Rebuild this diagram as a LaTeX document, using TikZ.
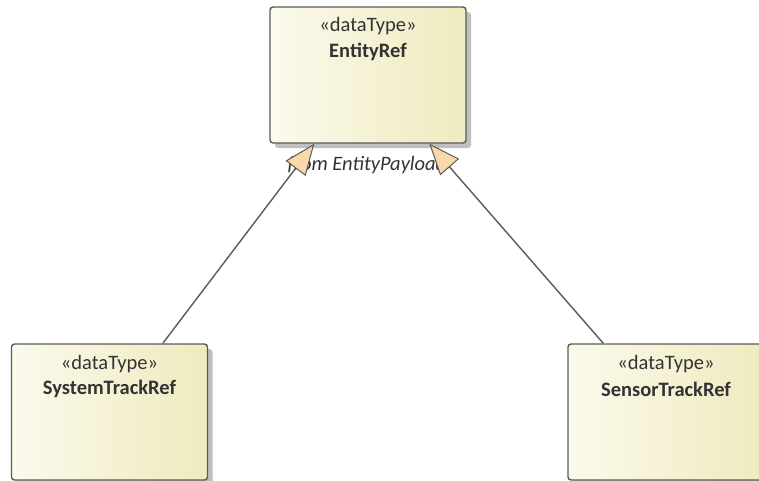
\documentclass[tikz,border=0pt]{standalone}
\usepackage{fontspec}
\setmainfont{Carlito}
\usetikzlibrary{arrows.meta,shadows,calc}
\definecolor{edge}{HTML}{5A5A5A}
\definecolor{lcol}{HTML}{FBFAEC}
\definecolor{rcol}{HTML}{EFEABF}
\definecolor{tipfill}{HTML}{F9D9AC}
\definecolor{txt}{HTML}{333333}
\tikzset{
  classbox/.style={draw=edge, line width=1.4pt, rounded corners=3pt,
    left color=lcol, right color=rcol, shading angle=90,
    minimum width=196pt, minimum height=136pt, inner sep=0pt,
    drop shadow={shadow xshift=5pt, shadow yshift=-5pt, fill=black!25, opacity=1}},
  stereo/.style={font=\fontsize{20.5}{24}\selectfont, text=txt},
  cname/.style={font=\fontsize{20.5}{24}\selectfont\bfseries, text=txt},
  gen/.style={draw=edge, line width=1.4pt,
    -{Triangle[open, length=31pt, width=25pt, fill=tipfill, line width=1pt]}},
}
\begin{document}
\begin{tikzpicture}[x=1pt,y=-1pt]
\useasboundingbox (0,0) rectangle (759,480);
\clip (0,0) rectangle (759,480);
\node[classbox] (er) at (368,75) {};
\node[stereo] (erst) at (368,26) {«dataType»};
\node[cname] (ernm) at (368,52) {EntityRef};
\node[classbox] (st) at (109.5,412) {};
\node[stereo] (stst) at (109.5,364) {«dataType»};
\node[cname] (stnm) at (109.5,389) {SystemTrackRef};
\node[classbox] (se) at (666,412) {};
\node[stereo] (sest) at (666,364) {«dataType»};
\node[cname] (senm) at (666,389) {SensorTrackRef};
\node[font=\fontsize{20.5}{24}\selectfont\itshape, text=txt] (lbl) at (367,165) {from EntityPayload};
\draw[gen] ($(st.north west)+(152,0)$) -- ($(er.south west)+(45,0)$);
\draw[gen] ($(se.north west)+(36,0)$) -- ($(er.south west)+(160,0)$);
\end{tikzpicture}
\end{document}
